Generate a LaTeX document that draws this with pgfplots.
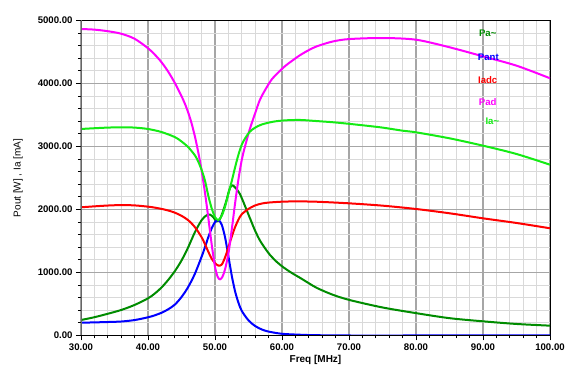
\documentclass[border=0pt]{standalone}
\usepackage{pgfplots}
\pgfplotsset{compat=1.18}
\usepackage{fontspec}
\setmainfont{Liberation Sans}
\definecolor{cPa}{RGB}{0,140,0}
\definecolor{cPant}{RGB}{0,0,255}
\definecolor{cIadc}{RGB}{255,0,0}
\definecolor{cPad}{RGB}{255,0,255}
\definecolor{cIa}{RGB}{20,235,20}
\begin{document}
\begin{tikzpicture}
\begin{axis}[
  scale only axis, width=469pt, height=315pt,
  xmin=30, xmax=100, ymin=0, ymax=5000,
  xtick={30,40,...,100}, ytick={0,1000,...,5000},
  minor x tick num=4, minor y tick num=4,
  xtick pos=left, ytick pos=left,
  grid=both,
  major grid style={draw=gray!70, line width=1.4pt},
  minor grid style={draw=gray!30, line width=0.9pt},
  tick align=outside,
  major tick length=5pt, minor tick length=3pt,
  every tick/.style={black, line width=0.8pt},
  axis line style={black, line width=0.8pt},
  /pgf/number format/.cd, fixed, fixed zerofill, precision=2, 1000 sep={}, assume math mode=true,
  /pgfplots/.cd,
  ticklabel style={font=\fontsize{9.6}{11}\selectfont\bfseries},
  xlabel={Freq [MHz]}, ylabel={Pout [W] , Ia [mA]},
  xlabel style={font=\fontsize{10}{12}\selectfont\bfseries, at={(axis description cs:0.5,-0.0762)}, anchor=center},
  ylabel style={font=\fontsize{10}{12}\selectfont, at={(axis description cs:-0.1343,0.5)}, anchor=center},
  every axis plot/.append style={line width=2pt, no markers, smooth},
]
\coordinate (ll) at (rel axis cs:0,0);
\coordinate (ur) at (rel axis cs:1,1);
% Pa~
\addplot[cPa] coordinates {
(30,246) (32,290) (34,345) (36,405) (38,485) (40,590) (41,665) (42,760) (43,880) (44,1020) (45,1190) (46,1400) (47,1640) (48,1830) (48.7,1905) (49.25,1920) (49.8,1870) (50.25,1812) (50.75,1850) (51.25,1990) (51.75,2160) (52.1,2300) (52.5,2385) (53,2350) (53.7,2250) (54.5,2050) (55.3,1840) (56,1660) (56.7,1510) (57.5,1380) (58.2,1280) (59.2,1170) (60.2,1083) (61.5,990) (62.7,915) (64,830) (65.2,755) (67.5,650) (70.1,563) (75,445) (80,355) (85,275) (90,225) (95,183) (100,156)};
% Pant
\addplot[cPant] coordinates {
(30,203) (32,208) (34,214) (36,222) (38,245) (40,289) (41,320) (42,360) (43,415) (44,490) (45,610) (46,770) (47,980) (48,1250) (48.5,1400) (49,1560) (49.5,1700) (50,1800) (50.5,1833) (51,1760) (51.5,1560) (52,1260) (52.5,950) (53,700) (53.5,520) (54,390) (55,240) (56,150) (57,95) (58,62) (60,27) (62.7,12) (65,5) (70,0) (80,0) (90,0) (100,0)};
% Iadc
\addplot[cIadc] coordinates {
(30,2035) (32,2050) (34,2063) (36,2070) (38,2065) (40,2045) (41,2030) (42,2010) (43,1985) (44,1950) (45,1900) (46,1830) (47,1720) (48,1560) (48.5,1450) (49,1330) (49.5,1220) (50,1150) (50.5,1110) (51,1125) (51.5,1240) (52,1400) (52.5,1570) (53,1720) (53.5,1840) (54,1925) (55,2010) (56,2065) (57,2095) (58,2110) (60,2124) (62,2128) (65,2124) (70,2098) (75,2061) (80,2008) (85,1940) (90,1860) (95,1786) (100,1702)};
% Pad
\addplot[cPad] coordinates {
(30,4865) (32,4855) (34,4830) (36,4790) (38,4710) (40,4560) (41,4460) (42,4340) (43,4190) (44,4010) (45,3800) (45.5,3680) (46,3540) (46.5,3370) (47,3160) (47.5,2910) (48,2620) (48.5,2270) (49,1870) (49.5,1450) (50,1090) (50.4,930) (50.75,892) (51.1,930) (51.5,1050) (52,1300) (52.5,1680) (53,2100) (53.5,2480) (54,2790) (54.5,3010) (55.2,3278) (56,3530) (56.7,3740) (57.5,3900) (58.5,4070) (59.5,4180) (60.5,4280) (61.5,4360) (62.7,4450) (64,4530) (65.2,4590) (67.5,4665) (70,4705) (75,4722) (80,4695) (85,4575) (90,4431) (95,4283) (100,4083)};
% Ia~
\addplot[cIa] coordinates {
(30,3278) (32,3290) (34,3300) (36,3305) (38,3300) (40,3278) (42,3230) (44,3150) (45,3080) (46,2990) (47,2860) (47.5,2760) (48,2630) (48.5,2460) (49,2220) (49.5,2020) (50,1880) (50.5,1833) (51,1900) (51.5,2045) (52,2250) (52.5,2450) (53,2670) (53.5,2870) (54,3030) (54.5,3130) (55.2,3235) (56,3300) (57,3350) (58.7,3394) (60.5,3415) (62.7,3421) (65,3405) (67.7,3384) (70,3360) (72.6,3330) (75,3300) (78,3251) (80,3225) (85,3130) (90,3013) (95,2881) (100,2711)};
\draw[line width=2pt, black!60] (rel axis cs:0,0) -- (rel axis cs:0,1);
\draw[line width=1.6pt, black] (rel axis cs:0,0) -- (rel axis cs:1,0);
\begin{scope}[font=\fontsize{9.6}{11}\selectfont\bfseries]
\node[text=cPa] at (axis cs:90.7,4800) {Pa\textasciitilde};
\node[text=cPant] at (axis cs:90.8,4420) {Pant};
\node[text=cIadc] at (axis cs:90.7,4056) {Iadc};
\node[text=cPad] at (axis cs:90.7,3706) {Pad};
\node[text=cIa] at (axis cs:91.4,3405) {Ia\textasciitilde};
\end{scope}
\end{axis}
\path ([shift={(-81pt,-40.5pt)}]ll) rectangle ([shift={(20pt,20.5pt)}]ur);
\end{tikzpicture}
\end{document}
